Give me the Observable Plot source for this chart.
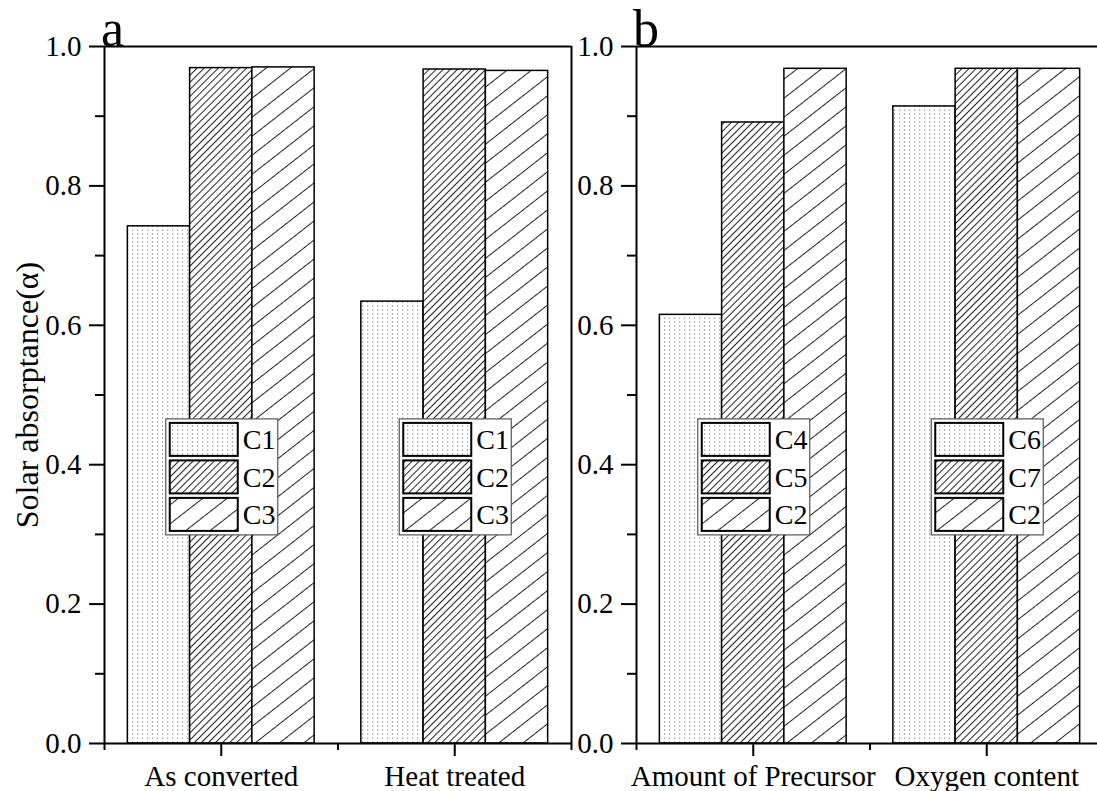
<!DOCTYPE html>
<html><head><meta charset="utf-8">
<script src="https://cdn.jsdelivr.net/npm/d3@7"></script>
<script src="https://cdn.jsdelivr.net/npm/@observablehq/plot@0.6"></script>
<style>
html,body{margin:0;padding:0;background:#fff;}
#wrap{position:relative;width:1097px;height:791px;overflow:hidden;background:#fff;}
#wrap svg.panel{position:absolute;top:0;}
</style></head><body>
<div id="wrap">
<svg width="0" height="0" style="position:absolute;left:0;top:0">
<defs>
 <pattern id="pat0" patternUnits="userSpaceOnUse" width="5" height="4">
   <rect width="5" height="4" fill="#fff"/>
   <rect x="2" y="1.5" width="1.2" height="1.2" fill="#8c8c8c"/>
 </pattern>
 <pattern id="pat1" patternUnits="userSpaceOnUse" width="5" height="10" patternTransform="rotate(45)">
   <rect width="5" height="10" fill="#fff"/>
   <line x1="2.5" y1="0" x2="2.5" y2="10" stroke="#222" stroke-width="1"/>
 </pattern>
 <pattern id="pat2" patternUnits="userSpaceOnUse" width="15" height="10" patternTransform="rotate(52)">
   <rect width="15" height="10" fill="#fff"/>
   <line x1="7.5" y1="0" x2="7.5" y2="10" stroke="#222" stroke-width="1"/>
 </pattern>
</defs></svg>
</div>
<script>
// ---- data ----
const groupsA = ["As converted", "Heat treated"];
const seriesA = [["C1", "C2", "C3"], ["C1", "C2", "C3"]];
const valuesA = [[0.742, 0.969, 0.970], [0.634, 0.967, 0.965]];

const groupsB = ["Amount of Precursor", "Oxygen content"];
const seriesB = [["C4", "C5", "C2"], ["C6", "C7", "C2"]];
const valuesB = [[0.615, 0.891, 0.968], [0.914, 0.968, 0.968]];

const yMajor = [0, 0.2, 0.4, 0.6, 0.8, 1.0];
const yMinor = [0.1, 0.3, 0.5, 0.7, 0.9];
const yLabel = "Solar absorptance(α)";
const legendTop = 0.465;

const FONT = "'Liberation Serif', 'Times New Roman', serif";
const wrap = document.getElementById("wrap");

function panel({groups, series, values, letter, left, withLabel}) {
  const bars = [];
  groups.forEach((g, gi) => series[gi].forEach((s, si) => bars.push({
    gi, si, name: s, value: values[gi][si],
    x1: gi - 0.4 + si * 0.8 / 3,
    x2: gi - 0.4 + (si + 1) * 0.8 / 3
  })));
  const barMarks = [0, 1, 2].map(si => Plot.rect(bars.filter(d => d.si === si), {
    x1: "x1", x2: "x2", y1: 0, y2: "value",
    fill: `url(#pat${si})`, stroke: "#000", strokeWidth: 1.5
  }));
  const marks = [
    ...barMarks,
    Plot.ruleY([0, 1], {stroke: "#000", strokeWidth: 2}),
    Plot.ruleX([-0.5, 1.5], {stroke: "#000", strokeWidth: 2}),
    Plot.axisY({ticks: yMajor, tickSize: 15, tickPadding: 8, tickFormat: d3.format(".1f"), label: null, strokeWidth: 2, fill: "#000", stroke: "#000", fontSize: 29}),
    Plot.axisY({ticks: yMinor, tickSize: 9, tickFormat: () => "", label: null, strokeWidth: 2, stroke: "#000"}),
    Plot.axisX({ticks: [0, 1], tickSize: 13, tickPadding: 9, tickFormat: i => groups[i], label: null, strokeWidth: 2, fill: "#000", stroke: "#000", fontSize: 29}),
    Plot.axisX({ticks: [-0.5, 0.5, 1.5], tickSize: 7, tickFormat: () => "", label: null, strokeWidth: 2, stroke: "#000"})
  ];
  if (withLabel) marks.push(Plot.text([yLabel], {frameAnchor: "left", textAnchor: "middle", rotate: -90, dx: -77, fill: "#000", fontSize: 32}));
  const svg = Plot.plot({
    width: 575, height: 791,
    marginLeft: 104, marginRight: 4, marginTop: 46, marginBottom: 48,
    x: {domain: [-0.5, 1.5]},
    y: {domain: [0, 1]},
    style: {fontFamily: FONT, fontSize: "29px", background: "transparent", color: "#000", overflow: "visible", maxWidth: "none"},
    marks
  });
  svg.classList.add("panel");
  svg.style.left = left + "px";
  const xs = svg.scale("x"), ys = svg.scale("y");
  const sel = d3.select(svg);
  const lg = sel.append("g").attr("text-anchor", "start");
  groups.forEach((grp, gi) => {
    const bx = xs.apply(gi) - 55, by = ys.apply(legendTop);
    lg.append("rect").attr("x", bx).attr("y", by).attr("width", 112).attr("height", 116)
      .attr("fill", "#fff").attr("stroke", "#555").attr("stroke-width", 1.2);
    series[gi].forEach((s, si) => {
      const ry = by + 4 + si * 37.5;
      lg.append("rect").attr("x", bx + 4).attr("y", ry).attr("width", 68).attr("height", 33)
        .attr("fill", `url(#pat${si})`).attr("stroke", "#000").attr("stroke-width", 2);
      lg.append("text").attr("x", bx + 77).attr("y", ry + 16.5).attr("dy", "0.35em")
        .attr("font-size", 28).attr("fill", "#000").text(s);
    });
  });
  sel.append("text").attr("x", 101).attr("y", 46).attr("font-size", 52).attr("text-anchor", "start")
    .attr("fill", "#000").attr("font-family", FONT).text(letter);
  wrap.appendChild(svg);
}

panel({groups: groupsA, series: seriesA, values: valuesA, letter: "a", left: 0, withLabel: true});
panel({groups: groupsB, series: seriesB, values: valuesB, letter: "b", left: 532, withLabel: false});
</script>
</body></html>
